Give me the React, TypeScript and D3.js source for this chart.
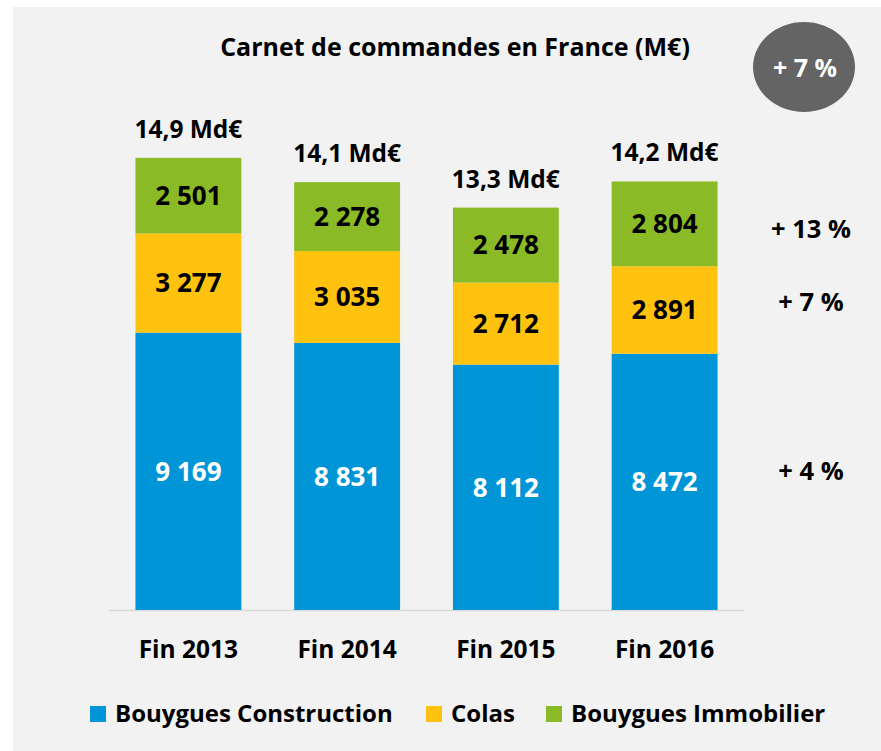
import React, { useEffect, useRef } from 'react';
import * as d3 from 'd3';

const categories = ['Fin 2013', 'Fin 2014', 'Fin 2015', 'Fin 2016'];
const construction = [9169, 8831, 8112, 8472];
const colas = [3277, 3035, 2712, 2891];
const immobilier = [2501, 2278, 2478, 2804];
const totals = ['14,9 Md€', '14,1 Md€', '13,3 Md€', '14,2 Md€'];
const seriesNames = ['Bouygues Construction', 'Colas', 'Bouygues Immobilier'];
const seriesColors = ['#0095d7', '#ffc20e', '#8aba25'];
const growth = ['+ 4 %', '+ 7 %', '+ 13 %'];
const globalGrowth = '+ 7 %';

const fmt = (v: number) => d3.format(',')(v).replace(/,/g, ' ');

const App = () => {
  const svgRef = useRef<SVGSVGElement>(null);

  useEffect(() => {
    const width = 881;
    const height = 751;
    const font = '"Open Sans", Lato, sans-serif';
    const svg = d3.select(svgRef.current);
    svg.selectAll('*').remove();
    svg.attr('width', width).attr('height', height);

    // panel background
    svg.append('rect')
      .attr('x', 13).attr('y', 7)
      .attr('width', width - 13).attr('height', height - 7)
      .attr('fill', '#f2f2f2');

    const x = d3.scaleBand()
      .domain(categories)
      .range([109, 744])
      .paddingInner(0.333)
      .paddingOuter(0.1667);

    const y = d3.scaleLinear()
      .domain([0, 16000])
      .range([610, 126]);

    const keys = ['construction', 'colas', 'immobilier'];
    const table = categories.map((c, i) => ({
      cat: c,
      construction: construction[i],
      colas: colas[i],
      immobilier: immobilier[i],
    }));
    const stacked = d3.stack<any>().keys(keys)(table);

    // title
    svg.append('text')
      .attr('x', 455).attr('y', 56)
      .attr('text-anchor', 'middle')
      .attr('font-family', font).attr('font-weight', 'bold')
      .attr('font-size', 25)
      .attr('fill', '#000')
      .text('Carnet de commandes en France (M€)');

    // global growth bubble
    svg.append('ellipse')
      .attr('cx', 804).attr('cy', 67)
      .attr('rx', 51).attr('ry', 45)
      .attr('fill', '#646464');
    svg.append('text')
      .attr('x', 805).attr('y', 68)
      .attr('dy', '0.36em')
      .attr('text-anchor', 'middle')
      .attr('font-family', font).attr('font-weight', 'bold')
      .attr('font-size', 25)
      .attr('fill', '#fff')
      .text(globalGrowth);

    // axis baseline
    svg.append('line')
      .attr('x1', 109).attr('x2', 744)
      .attr('y1', y(0) + 0.5).attr('y2', y(0) + 0.5)
      .attr('stroke', '#d9d9d9').attr('stroke-width', 1.5);

    const layers = svg.append('g')
      .selectAll('g')
      .data(stacked)
      .enter()
      .append('g')
      .attr('fill', (_d, i) => seriesColors[i]);

    layers.selectAll('rect')
      .data(d => d)
      .enter()
      .append('rect')
      .attr('x', d => x(d.data.cat)!)
      .attr('y', d => y(d[1]))
      .attr('width', x.bandwidth())
      .attr('height', d => y(d[0]) - y(d[1]));

    layers.each(function (layer, i) {
      d3.select(this).selectAll('text.val')
        .data(layer)
        .enter()
        .append('text')
        .attr('class', 'val')
        .attr('x', d => x(d.data.cat)! + x.bandwidth() / 2)
        .attr('y', d => (y(d[0]) + y(d[1])) / 2)
        .attr('dy', '0.36em')
        .attr('text-anchor', 'middle')
        .attr('font-family', font).attr('font-weight', 'bold')
        .attr('font-size', 26)
        .attr('fill', i === 0 ? '#fff' : '#000')
        .text(d => fmt(d[1] - d[0]));
    });

    // totals above bars
    const top = stacked[stacked.length - 1];
    svg.append('g')
      .selectAll('text')
      .data(top)
      .enter()
      .append('text')
      .attr('x', d => x(d.data.cat)! + x.bandwidth() / 2)
      .attr('y', d => y(d[1]) - 20)
      .attr('text-anchor', 'middle')
      .attr('font-family', font).attr('font-weight', 'bold')
      .attr('font-size', 24.5)
      .attr('fill', '#000')
      .text((_d, i) => totals[i]);

    // category labels
    svg.append('g')
      .selectAll('text')
      .data(categories)
      .enter()
      .append('text')
      .attr('x', d => x(d)! + x.bandwidth() / 2)
      .attr('y', 658)
      .attr('text-anchor', 'middle')
      .attr('font-family', font).attr('font-weight', 'bold')
      .attr('font-size', 24.5)
      .attr('fill', '#000')
      .text(d => d);

    // growth per segment (right side)
    const growthY = [471, 302, 229];
    svg.append('g')
      .selectAll('text')
      .data(growth)
      .enter()
      .append('text')
      .attr('x', 811)
      .attr('y', (_d, i) => growthY[i])
      .attr('dy', '0.36em')
      .attr('text-anchor', 'middle')
      .attr('font-family', font).attr('font-weight', 'bold')
      .attr('font-size', 25.5)
      .attr('fill', '#000')
      .text(d => d);

    // legend
    const legendX = [90, 426, 546];
    const legend = svg.append('g')
      .selectAll('g')
      .data(seriesNames)
      .enter()
      .append('g')
      .attr('transform', (_d, i) => `translate(${legendX[i]},706)`);
    legend.append('rect')
      .attr('width', 16).attr('height', 16)
      .attr('fill', (_d, i) => seriesColors[i]);
    legend.append('text')
      .attr('x', 25).attr('y', 16)
      .attr('font-family', font).attr('font-weight', 'bold')
      .attr('font-size', 24)
      .attr('fill', '#000')
      .text(d => d);
  }, []);

  return (
    <svg ref={svgRef} style={{ position: 'absolute', left: 0, top: 0 }}></svg>
  );
};

export default App;
